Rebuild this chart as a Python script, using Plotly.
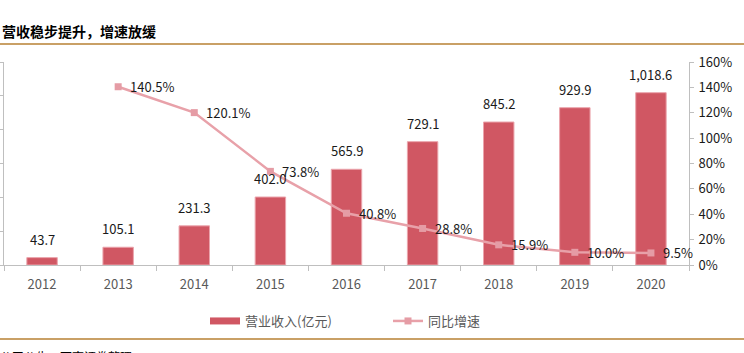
import plotly.graph_objects as go

years = ["2012", "2013", "2014", "2015", "2016", "2017", "2018", "2019", "2020"]
revenue = [43.7, 105.1, 231.3, 402.0, 565.9, 729.1, 845.2, 929.9, 1018.6]
growth = [None, 140.5, 120.1, 73.8, 40.8, 28.8, 15.9, 10.0, 9.5]
revenue_labels = ["43.7", "105.1", "231.3", "402.0", "565.9", "729.1", "845.2", "929.9", "1,018.6"]
right_ticks = [0, 20, 40, 60, 80, 100, 120, 140, 160]

W, H = 744, 353
BAR = "#D05763"
LINE = "#E8A1A9"
FONT = "Noto Sans CJK SC"


def px(x):
    return x / W


def py(y):
    return 1 - y / H


fig = go.Figure()
fig.add_trace(go.Bar(
    x=years, y=revenue, name="营业收入(亿元)", showlegend=False,
    marker=dict(color=BAR, line=dict(color="#EBA4AC", width=1)),
    width=0.4, yaxis="y",
))
# legend swatch for bars (wide thin rectangle like the original)
fig.add_trace(go.Scatter(
    x=[years[0]], y=[None], mode="lines", name="营业收入(亿元)",
    line=dict(color=BAR, width=7), yaxis="y",
))
fig.add_trace(go.Scatter(
    x=years, y=growth, name="同比增速", mode="lines+markers",
    line=dict(color=LINE, width=2.5),
    marker=dict(symbol="square", size=7, color="#E59CA5"),
    yaxis="y2",
))

annotations = []
for i, (v, lab) in enumerate(zip(revenue, revenue_labels)):
    annotations.append(dict(x=i, y=v, xref="x", yref="y", text=lab,
                            showarrow=False, yanchor="bottom", yshift=7,
                            font=dict(family=FONT, size=13, color="#1a1a1a")))
for i, g in enumerate(growth):
    if g is None:
        continue
    annotations.append(dict(x=i, y=g, xref="x", yref="y2", text=f"{g:.1f}%",
                            showarrow=False, xanchor="left", xshift=10,
                            font=dict(family=FONT, size=13, color="#1a1a1a")))

annotations.append(dict(x=px(0), y=py(31), xref="paper", yref="paper",
                        text="<b>营收稳步提升，增速放缓</b>", showarrow=False,
                        xanchor="left", yanchor="middle",
                        font=dict(family=FONT, size=14, color="#000000")))
annotations.append(dict(x=px(-2), y=py(346), xref="paper", yref="paper",
                        text="公司公告，西南证券整理", showarrow=False,
                        xanchor="left", yanchor="top",
                        font=dict(family=FONT, size=12, color="#000000")))

shapes = [
    dict(type="line", xref="paper", yref="paper", x0=0, x1=1, y0=py(44), y1=py(44),
         line=dict(color="#C9A066", width=2)),
    dict(type="line", xref="paper", yref="paper", x0=0, x1=1, y0=py(339), y1=py(339),
         line=dict(color="#C9A066", width=2)),
]

fig.update_layout(
    width=W, height=H,
    margin=dict(l=0, r=0, t=0, b=0, pad=0, autoexpand=False),
    paper_bgcolor="white", plot_bgcolor="white",
    font=dict(family=FONT, size=13, color="#595959"),
    xaxis=dict(domain=[px(4), px(689)], type="category",
               categoryorder="array", categoryarray=years,
               range=[-0.5, len(years) - 0.5], showgrid=False,
               showline=True, linecolor="#BFBFBF", linewidth=1,
               ticks="outside", tickson="boundaries", ticklen=5, tickcolor="#BFBFBF",
               ticklabelstandoff=7,
               tickfont=dict(family=FONT, size=13, color="#595959")),
    yaxis=dict(domain=[py(265), py(62)], range=[0, 1200], dtick=200,
               showgrid=False, zeroline=False, showline=True, linecolor="#BFBFBF",
               ticks="outside", ticklen=4, tickcolor="#BFBFBF", showticklabels=False),
    yaxis2=dict(overlaying="y", side="right", anchor="x", range=[0, 160],
                tickvals=right_ticks, ticktext=[f"{t}%" for t in right_ticks],
                showgrid=False, zeroline=False, showline=True, linecolor="#BFBFBF",
                ticks="outside", ticklen=4, tickcolor="#BFBFBF", ticklabelstandoff=2,
                tickfont=dict(family=FONT, size=13, color="#1a1a1a")),
    legend=dict(orientation="h", x=px(205), y=py(321), xanchor="left", yanchor="middle",
                font=dict(family=FONT, size=13, color="#595959"),
                entrywidth=138, entrywidthmode="pixels", bgcolor="rgba(0,0,0,0)"),
    annotations=annotations,
    shapes=shapes,
)

fig.write_html("out.html")
